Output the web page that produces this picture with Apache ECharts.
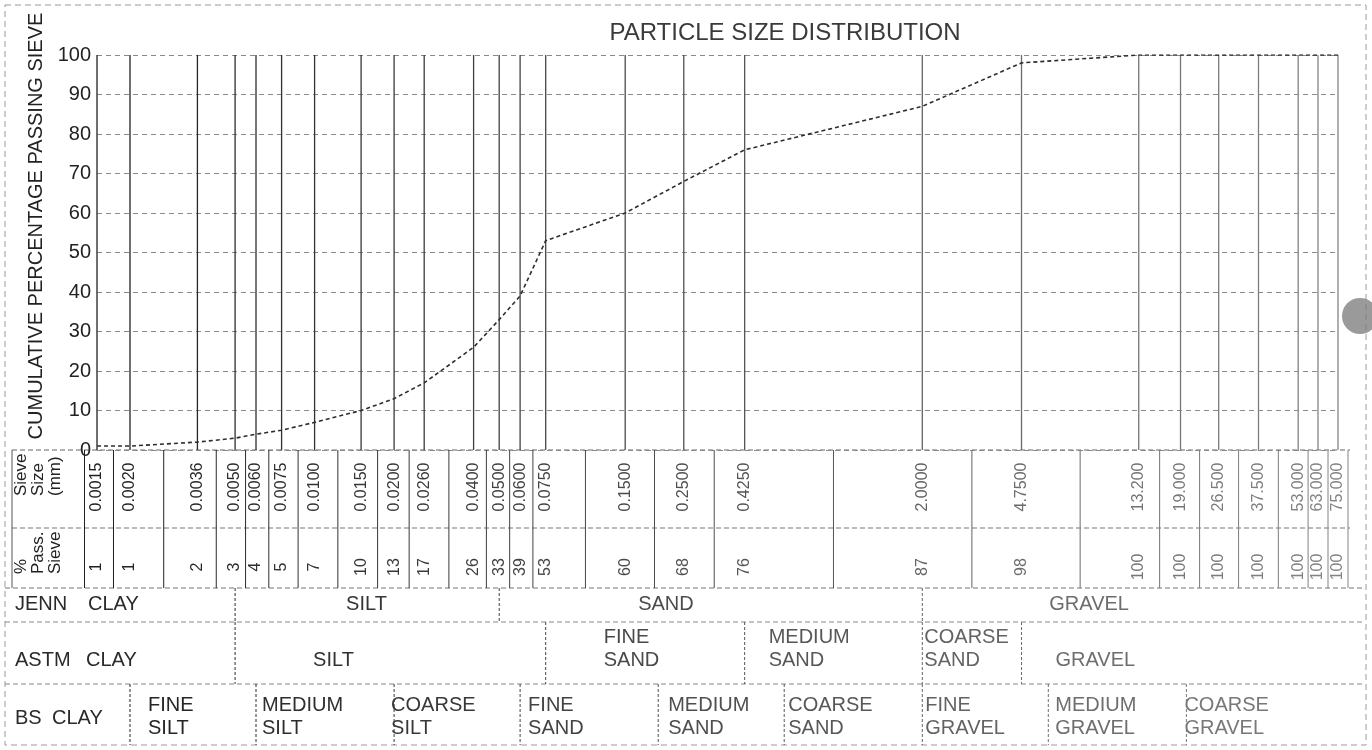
<!DOCTYPE html>
<html>
<head>
<meta charset="utf-8">
<script src="https://cdn.jsdelivr.net/npm/echarts@6/dist/echarts.min.js"></script>
<style>
  html, body { margin: 0; padding: 0; background: #ffffff; }
  #chart { width: 1372px; height: 750px; }
</style>
</head>
<body>
<div id="chart"></div>
<script>
// sieve analysis results
var sieveSize = [0.0015, 0.002, 0.0036, 0.005, 0.006, 0.0075, 0.01, 0.015, 0.02, 0.026, 0.04, 0.05, 0.06, 0.075,
  0.15, 0.25, 0.425, 2.0, 4.75, 13.2, 19.0, 26.5, 37.5, 53.0, 63.0, 75.0];
var sieveLabels = ['0.0015', '0.0020', '0.0036', '0.0050', '0.0060', '0.0075', '0.0100', '0.0150', '0.0200', '0.0260',
  '0.0400', '0.0500', '0.0600', '0.0750', '0.1500', '0.2500', '0.4250', '2.0000', '4.7500',
  '13.200', '19.000', '26.500', '37.500', '53.000', '63.000', '75.000'];
var passing = [1, 1, 2, 3, 4, 5, 7, 10, 13, 17, 26, 33, 39, 53, 60, 68, 76, 87, 98, 100, 100, 100, 100, 100, 100, 100];

// classification systems (boundary sizes in mm, name of the band that starts there)
var jennBounds = [0.005, 0.05, 2.0];
var jennNames = ['SILT', 'SAND', 'GRAVEL'];
var astmBounds = [0.005, 0.075, 0.425, 2.0, 4.75];
var astmNames = ['SILT', 'FINE\nSAND', 'MEDIUM\nSAND', 'COARSE\nSAND', 'GRAVEL'];
var bsBounds = [0.002, 0.006, 0.02, 0.06, 0.2, 0.6, 2.0, 6.0, 20.0];
var bsNames = ['FINE\nSILT', 'MEDIUM\nSILT', 'COARSE\nSILT', 'FINE\nSAND', 'MEDIUM\nSAND', 'COARSE\nSAND',
  'FINE\nGRAVEL', 'MEDIUM\nGRAVEL', 'COARSE\nGRAVEL'];

// layout only
var FONT = "'Liberation Sans', Arial, sans-serif";
var jennPad = [111, 139, 127];
var astmPad = [78, 58, 24, 2, 34];
var bsPad = [18, 6, -3, 8, 10, 4, 3, 7, -2];
// rows of the table, px below the plot bottom
var ROW = { top: 0, pass: 78, jenn: 138, astm: 172, bs: 234, bottom: 295 };

function shade(px) {
  var v = Math.round(25 + 110 * px / 1372);
  return 'rgb(' + v + ',' + v + ',' + v + ')';
}

// cell borders of the sieve table: half way (log) between sizes
var edges = [];
for (var i = 0; i < sieveSize.length - 1; i++) {
  edges.push(Math.sqrt(sieveSize[i] * sieveSize[i + 1]));
}
edges.push(sieveSize[sieveSize.length - 1] * sieveSize[sieveSize.length - 1] / edges[edges.length - 1]);
var firstEdge = sieveSize[0] * sieveSize[0] / edges[0];

function renderPlotLine(params, api) {
  var top = api.coord([api.value(0), 100]);
  var bot = api.coord([api.value(0), 0]);
  return {
    type: 'line',
    shape: { x1: top[0], y1: top[1], x2: bot[0], y2: bot[1] },
    style: { stroke: shade(top[0]), lineWidth: 1.3 }
  };
}

function renderSieveCell(params, api) {
  var i = params.dataIndex;
  var c = api.coord([sieveSize[i], ROW.top]);
  var b = api.coord([edges[i], ROW.top]);
  var bBot = api.coord([edges[i], ROW.jenn]);
  var col = shade(c[0]);
  var kids = [
    { type: 'line', shape: { x1: b[0], y1: b[1], x2: bBot[0], y2: bBot[1] }, style: { stroke: col, lineWidth: 1 } },
    { type: 'text', x: c[0], y: c[1] + 37, rotation: Math.PI / 2,
      style: { text: sieveLabels[i], fill: col, font: '16px ' + FONT, align: 'center', verticalAlign: 'middle' } },
    { type: 'text', x: c[0], y: c[1] + 117, rotation: Math.PI / 2,
      style: { text: String(passing[i]), fill: col, font: '16px ' + FONT, align: 'center', verticalAlign: 'middle' } }
  ];
  if (i == 0) {
    var f = api.coord([firstEdge, ROW.top]);
    kids.push({ type: 'line', shape: { x1: f[0] + 4, y1: f[1], x2: f[0] + 4, y2: bBot[1] }, style: { stroke: col, lineWidth: 1 } });
  }
  return { type: 'group', children: kids };
}

function classSeries(bounds, names, pads, rowTop, rowBot, textY, vAlign) {
  return {
    type: 'custom',
    xAxisIndex: 1,
    yAxisIndex: 1,
    clip: false,
    silent: true,
    data: bounds.map(function(b) { return [b, rowTop]; }),
    renderItem: function(params, api) {
      var i = params.dataIndex;
      var t = api.coord([bounds[i], rowTop]);
      var b = api.coord([bounds[i], rowBot]);
      var ty = api.coord([bounds[i], textY])[1];
      var tx = t[0] + pads[i];
      return {
        type: 'group',
        children: [
          { type: 'line', shape: { x1: t[0], y1: t[1], x2: b[0], y2: b[1] },
            style: { stroke: shade(t[0]), lineWidth: 1, lineDash: [3, 2] } },
          { type: 'text', x: tx, y: ty,
            style: { text: names[i], fill: shade(tx), font: '20px ' + FONT, align: 'left', verticalAlign: vAlign, lineHeight: 23 } }
        ]
      };
    }
  };
}

function hLine(x1, x2, y, color, dash) {
  return { type: 'line', shape: { x1: x1, y1: y, x2: x2, y2: y },
    style: { stroke: color, lineWidth: 1, lineDash: dash } };
}

function label(text, x, y, size, opts) {
  var st = { text: text, fill: opts.fill || '#2a2a2a', font: size + 'px ' + FONT,
    align: opts.align || 'left', verticalAlign: opts.va || 'middle', lineHeight: opts.lh || size * 1.2 };
  return { type: 'text', x: x, y: y, rotation: opts.rot || 0, style: st };
}

var chart = echarts.init(document.getElementById('chart'));

var option = {
  animation: false,
  backgroundColor: '#ffffff',
  grid: [
    { left: 97, right: 34, top: 55, height: 395, outerBoundsMode: 'none' },
    { left: 97, right: 34, top: 450, height: 295, outerBoundsMode: 'none' }
  ],
  xAxis: [
    { type: 'log', gridIndex: 0, min: 0.0015, max: 75, show: false },
    { type: 'log', gridIndex: 1, min: 0.0015, max: 75, show: false }
  ],
  yAxis: [
    {
      type: 'value', gridIndex: 0, min: 0, max: 100, interval: 10,
      axisLine: { show: false },
      axisTick: { show: false },
      axisLabel: { fontSize: 20, color: '#222', margin: 6, fontFamily: FONT },
      splitLine: { lineStyle: { color: '#8a8a8a', width: 1, type: [5, 4] } }
    },
    { type: 'value', gridIndex: 1, min: 0, max: 295, inverse: true, show: false }
  ],
  graphic: [
    // outer frame
    { type: 'rect', shape: { x: 5, y: 5, width: 1361, height: 740 },
      style: { fill: 'none', stroke: '#9a9a9a', lineWidth: 1, lineDash: [6, 4] } },
    label('PARTICLE SIZE DISTRIBUTION', 785, 33, 24, { align: 'center', fill: '#3a3a3a' }),
    label('CUMULATIVE PERCENTAGE PASSING SIEVE', 36, 226, 20, { align: 'center', rot: Math.PI / 2, fill: '#222' }),
    // table frame lines
    hLine(12, 1350, 450, '#666', [5, 3]),
    hLine(12, 1350, 528, '#777', [5, 3]),
    hLine(5, 1365, 588, '#777', [5, 3]),
    hLine(5, 1365, 622, '#888', [5, 3]),
    hLine(5, 1365, 684, '#888', [5, 3]),
    { type: 'line', shape: { x1: 12, y1: 450, x2: 12, y2: 588 }, style: { stroke: '#555', lineWidth: 1 } },
    label('Sieve\nSize\n(mm)', 38, 496, 17, { rot: Math.PI / 2, lh: 17, fill: '#222' }),
    label('%\nPass.\nSieve', 38, 574, 17, { rot: Math.PI / 2, lh: 17, fill: '#222' }),
    // row names
    label('JENN', 15, 604, 20, {}),
    label('CLAY', 88, 604, 20, {}),
    label('ASTM', 15, 660, 20, {}),
    label('CLAY', 86, 660, 20, {}),
    label('BS', 15, 718, 20, {}),
    label('CLAY', 52, 718, 20, {}),
    // scanner smudge on the right edge
    { type: 'circle', shape: { cx: 1360, cy: 316, r: 18 }, style: { fill: 'rgba(120,120,120,0.75)' } }
  ],
  series: [
    {
      type: 'custom',
      xAxisIndex: 0,
      yAxisIndex: 0,
      silent: true,
      clip: false,
      data: sieveSize.map(function(s) { return [s, 0]; }),
      renderItem: renderPlotLine,
      z: 1
    },
    {
      type: 'line',
      xAxisIndex: 0,
      yAxisIndex: 0,
      data: sieveSize.map(function(s, i) { return [s, passing[i]]; }),
      showSymbol: false,
      symbol: 'none',
      lineStyle: { color: '#2e2e2e', width: 1.6, type: [4, 3] },
      z: 5
    },
    {
      type: 'custom',
      xAxisIndex: 1,
      yAxisIndex: 1,
      silent: true,
      clip: false,
      data: sieveSize.map(function(s) { return [s, 0]; }),
      renderItem: renderSieveCell
    },
    classSeries(jennBounds, jennNames, jennPad, ROW.jenn, ROW.astm, 154, 'middle'),
    classSeries(astmBounds, astmNames, astmPad, ROW.astm, ROW.bs, 222, 'bottom'),
    classSeries(bsBounds, bsNames, bsPad, ROW.bs, ROW.bottom, 290, 'bottom')
  ]
};

chart.setOption(option);
</script>
</body>
</html>
